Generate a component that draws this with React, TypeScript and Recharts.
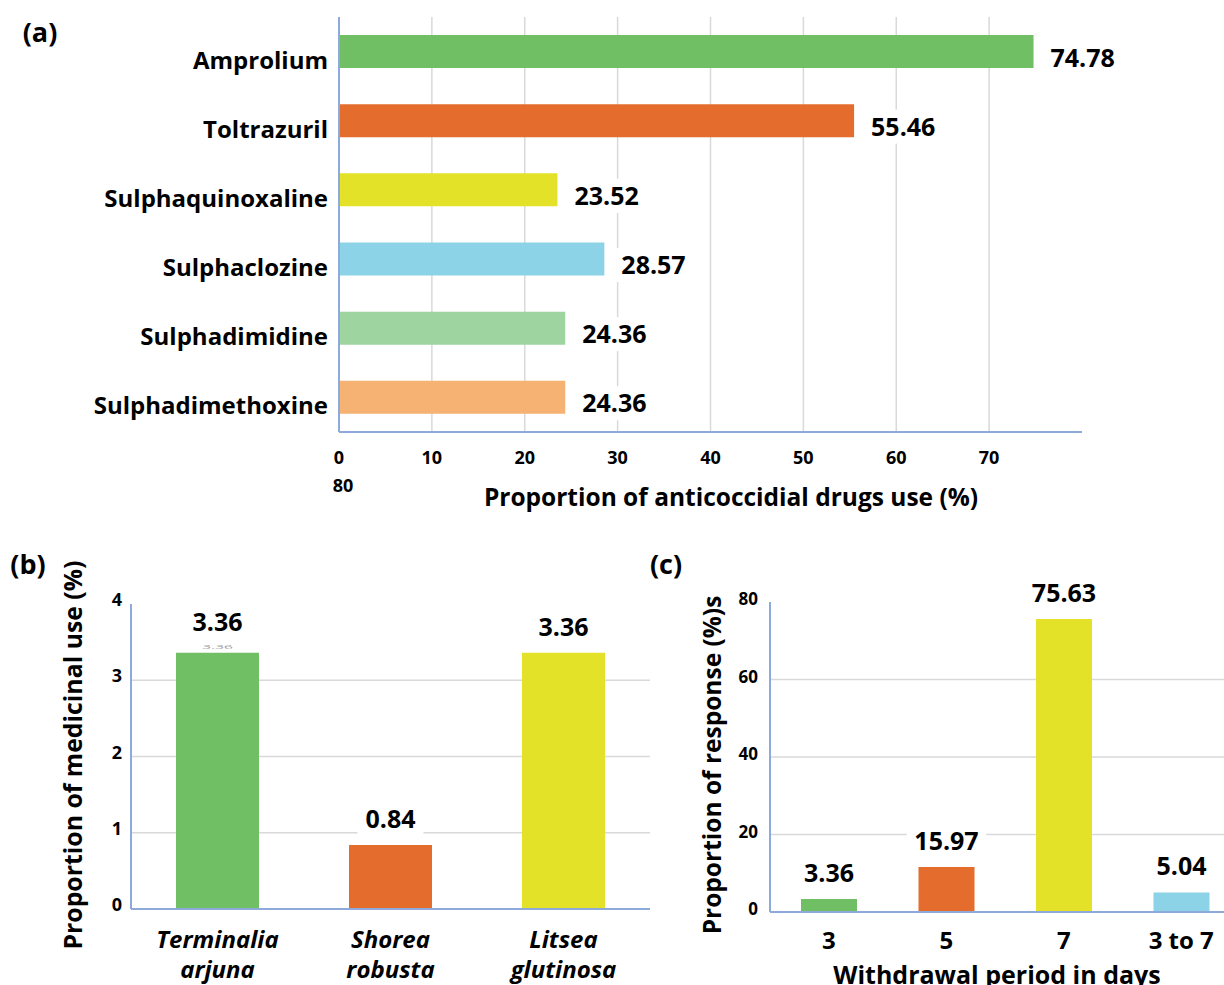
import React from 'react';
import { BarChart, Bar, XAxis, YAxis, Cell, LabelList, CartesianGrid } from 'recharts';

const FONT = "'Open Sans', sans-serif";
const AXIS_BLUE = '#8eaadb';
const GRID = '#d9d9d9';

// ---- (a) anticoccidial drugs ----
const drugNames = ['Amprolium', 'Toltrazuril', 'Sulphaquinoxaline', 'Sulphaclozine', 'Sulphadimidine', 'Sulphadimethoxine'];
const drugUse = [74.78, 55.46, 23.52, 28.57, 24.36, 24.36];
const drugColors = ['#70bf65', '#e46c2d', '#e3e229', '#8cd3e8', '#9dd4a0', '#f5b272'];
const drugTicks = [0, 10, 20, 30, 40, 50, 60, 70, 80];
const drugGridValues = [10, 20, 30, 40, 50, 60, 70];

// ---- (b) medicinal plants ----
const plantGenus = ['Terminalia', 'Shorea', 'Litsea'];
const plantSpecies = ['arjuna', 'robusta', 'glutinosa'];
const plantUse = [3.36, 0.84, 3.36];
const plantColors = ['#70bf65', '#e46c2d', '#e3e229'];
const plantTicks = [0, 1, 2, 3, 4];
const plantGridValues = [1, 2, 3];

// ---- (c) withdrawal period ----
const withdrawalDays = ['3', '5', '7', '3 to 7'];
const responseBars = [3.36, 11.6, 75.63, 5.04];
const responseLabels = ['3.36', '15.97', '75.63', '5.04'];
const responseColors = ['#70bf65', '#e46c2d', '#e3e229', '#8cd3e8'];
const responseTicks = [0, 20, 40, 60, 80];
const responseGridValues = [20, 40, 60];

const drugData = drugNames.map((name, i) => ({ name, value: drugUse[i] }));
const plantData = plantGenus.map((name, i) => ({ name, species: plantSpecies[i], value: plantUse[i] }));
const responseData = withdrawalDays.map((name, i) => ({ name, value: responseBars[i], label: responseLabels[i] }));

const A_PLOT_W = 1224 - 142 - 339;

const getVB = (props: any) => (props && props.viewBox && props.viewBox.width !== undefined ? props.viewBox : props);

const DrugValueLabel = (props: any) => {
  const vb = getVB(props);
  const x = vb.x + vb.width + 17;
  const cy = vb.y + vb.height / 2 + 6;
  const text = String(props.value);
  const w = text.length * 13.5;
  return (
    <g>
      <rect x={x - 5} y={cy - 17} width={w + 10} height={34} fill="#fff" />
      <text x={x} y={cy + 9} fontSize={25} fontWeight={700} fill="#000" fontFamily={FONT}>
        {text}
      </text>
    </g>
  );
};

const makeTopLabel = (extraTiny: boolean) => (props: any) => {
  const vb = getVB(props);
  const cx = vb.x + vb.width / 2;
  const idx = props.index;
  const capCenter = vb.y - (extraTiny && idx === 0 ? 31 : 26);
  const text = String(props.value);
  const w = text.length * 13.5;
  return (
    <g>
      <rect x={cx - w / 2 - 6} y={capCenter - 17} width={w + 12} height={34} fill="#fff" />
      <text x={cx} y={capCenter + 9} fontSize={25} fontWeight={700} fill="#000" textAnchor="middle" fontFamily={FONT}>
        {text}
      </text>
      {extraTiny && idx === 0 ? (
        <text
          fontSize={12}
          fill="#9a9a9a"
          textAnchor="middle"
          fontFamily={FONT}
          transform={`translate(${cx},${vb.y - 4}) scale(1.3,0.4)`}
        >
          {text}
        </text>
      ) : null}
    </g>
  );
};

const DrugXTick = (props: any) => {
  const { x, y, payload } = props;
  if (payload.value === 80) {
    return (
      <text x={x - A_PLOT_W + 4} y={y + 52} fontSize={18} fontWeight={700} textAnchor="middle" fill="#000" fontFamily={FONT}>
        {payload.value}
      </text>
    );
  }
  return (
    <text x={x} y={y + 24} fontSize={18} fontWeight={700} textAnchor="middle" fill="#000" fontFamily={FONT}>
      {payload.value}
    </text>
  );
};

const DrugYTick = (props: any) => {
  const { x, y, payload } = props;
  return (
    <text x={x - 3} y={y + 17} fontSize={24} fontWeight={700} textAnchor="end" fill="#000" fontFamily={FONT}>
      {payload.value}
    </text>
  );
};

const PlantXTick = (props: any) => {
  const { x, y, index } = props;
  return (
    <text x={x} y={y} fontSize={24} fontWeight={700} fontStyle="italic" textAnchor="middle" fill="#000" fontFamily={FONT}>
      <tspan x={x} dy={31}>{plantGenus[index]}</tspan>
      <tspan x={x} dy={30}>{plantSpecies[index]}</tspan>
    </text>
  );
};

const NumYTick = (dx: number, dy: number, fs: number) => (props: any) => {
  const { x, y, payload } = props;
  return (
    <text x={x + dx} y={y + dy} fontSize={fs} fontWeight={700} textAnchor="end" fill="#000" fontFamily={FONT}>
      {payload.value}
    </text>
  );
};

const RespXTick = (props: any) => {
  const { x, y, payload } = props;
  return (
    <text x={x} y={y + 29} fontSize={24} fontWeight={700} textAnchor="middle" fill="#000" fontFamily={FONT}>
      {payload.value}
    </text>
  );
};

const titleStyle = (cx: number, cy: number, fs: number, rotate = false): React.CSSProperties => ({
  position: 'absolute',
  left: cx,
  top: cy,
  transform: `translate(-50%, -50%)${rotate ? ' rotate(-90deg)' : ''}`,
  fontSize: fs,
  fontWeight: 700,
  lineHeight: 1,
  whiteSpace: 'nowrap',
  fontFamily: FONT,
  color: '#000',
});

export default function App() {
  const axisLine = { stroke: AXIS_BLUE, strokeWidth: 2 };
  return (
    <div
      style={{
        position: 'fixed',
        left: 0,
        top: 0,
        width: 1224,
        height: 985,
        overflow: 'hidden',
        background: '#fff',
        fontFamily: FONT,
      }}
    >
      {/* (a) */}
      <div style={{ position: 'absolute', left: 0, top: 0 }}>
        <BarChart
          width={1224}
          height={520}
          layout="vertical"
          data={drugData}
          margin={{ top: 17, right: 142, left: 0, bottom: 0 }}
        >
          <CartesianGrid horizontal={false} verticalValues={drugGridValues} stroke={GRID} strokeWidth={1.5} />
          <XAxis
            type="number"
            domain={[0, 80]}
            ticks={drugTicks}
            interval={0}
            height={88}
            axisLine={axisLine}
            tickLine={false}
            tick={<DrugXTick />}
          />
          <YAxis
            type="category"
            dataKey="name"
            width={339}
            interval={0}
            axisLine={axisLine}
            tickLine={false}
            tick={<DrugYTick />}
          />
          <Bar dataKey="value" barSize={33} isAnimationActive={false}>
            {drugData.map((d, i) => (
              <Cell key={d.name} fill={drugColors[i]} />
            ))}
            <LabelList dataKey="value" content={DrugValueLabel} />
          </Bar>
        </BarChart>
      </div>

      {/* (b) */}
      <div style={{ position: 'absolute', left: 0, top: 540 }}>
        <BarChart width={660} height={445} data={plantData} margin={{ top: 64, right: 10, left: 0, bottom: 0 }}>
          <CartesianGrid vertical={false} horizontalValues={plantGridValues} stroke={GRID} strokeWidth={1.5} />
          <XAxis dataKey="name" height={76} interval={0} axisLine={axisLine} tickLine={false} tick={<PlantXTick />} />
          <YAxis
            type="number"
            domain={[0, 4]}
            ticks={plantTicks}
            interval={0}
            width={131}
            axisLine={axisLine}
            tickLine={false}
            tick={NumYTick(-1, 2, 18)}
          />
          <Bar dataKey="value" barSize={83} isAnimationActive={false}>
            {plantData.map((d, i) => (
              <Cell key={d.name} fill={plantColors[i]} />
            ))}
            <LabelList dataKey="value" content={makeTopLabel(true)} />
          </Bar>
        </BarChart>
      </div>

      {/* (c) */}
      <div style={{ position: 'absolute', left: 640, top: 540 }}>
        <BarChart width={640} height={445} data={responseData} margin={{ top: 62, right: 40, left: 0, bottom: 0 }}>
          <CartesianGrid vertical={false} horizontalValues={responseGridValues} stroke={GRID} strokeWidth={1.5} />
          <XAxis dataKey="name" height={73} interval={0} axisLine={axisLine} tickLine={false} tick={<RespXTick />} />
          <YAxis
            type="number"
            domain={[0, 80]}
            ticks={responseTicks}
            interval={0}
            width={130}
            axisLine={axisLine}
            tickLine={false}
            tick={NumYTick(-4, 3, 17)}
          />
          <Bar dataKey="value" barSize={56} isAnimationActive={false}>
            {responseData.map((d, i) => (
              <Cell key={d.name} fill={responseColors[i]} />
            ))}
            <LabelList dataKey="label" content={makeTopLabel(false)} />
          </Bar>
        </BarChart>
      </div>

      {/* titles */}
      <div style={titleStyle(40, 31, 27)}>(a)</div>
      <div style={titleStyle(28, 563, 27)}>(b)</div>
      <div style={titleStyle(666, 563, 27)}>(c)</div>
      <div style={titleStyle(731, 497, 24.5)}>Proportion of anticoccidial drugs use (%)</div>
      <div style={titleStyle(72, 755, 24.8, true)}>Proportion of medicinal use (%)</div>
      <div style={titleStyle(712, 765, 24.5, true)}>Proportion of response (%)s</div>
      <div style={titleStyle(997, 974, 25)}>Withdrawal period in days</div>
    </div>
  );
}
